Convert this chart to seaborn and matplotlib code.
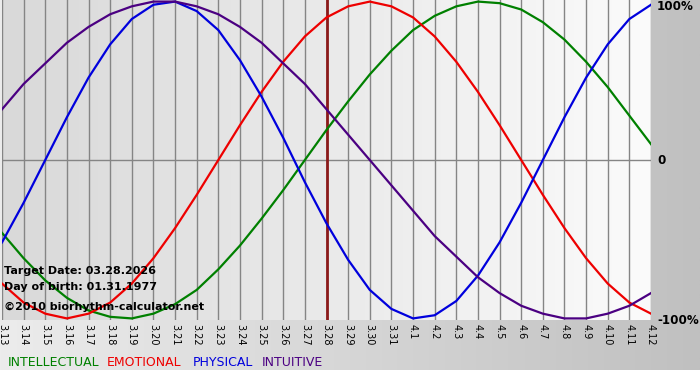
import numpy as np
import pandas as pd
import matplotlib
matplotlib.use('Agg')
import matplotlib.pyplot as plt
import seaborn as sns
from matplotlib.colors import LinearSegmentedColormap

# Data: one value per day (-1..1)
days = ['3.13', '3.14', '3.15', '3.16', '3.17', '3.18', '3.19', '3.20', '3.21', '3.22',
        '3.23', '3.24', '3.25', '3.26', '3.27', '3.28', '3.29', '3.30', '3.31', '4.1',
        '4.2', '4.3', '4.4', '4.5', '4.6', '4.7', '4.8', '4.9', '4.10', '4.11', '4.12']
physical = [-0.52, -0.27, 0.00, 0.27, 0.52, 0.73, 0.89, 0.98, 1.00, 0.94,
            0.82, 0.63, 0.40, 0.14, -0.14, -0.40, -0.63, -0.82, -0.94, -1.00,
            -0.98, -0.89, -0.73, -0.52, -0.27, 0.00, 0.27, 0.52, 0.73, 0.89, 0.98]
emotional = [-0.78, -0.90, -0.97, -1.00, -0.97, -0.90, -0.78, -0.62, -0.43, -0.22,
             0.00, 0.22, 0.43, 0.62, 0.78, 0.90, 0.97, 1.00, 0.97, 0.90,
             0.78, 0.62, 0.43, 0.22, 0.00, -0.22, -0.43, -0.62, -0.78, -0.90, -0.97]
intellectual = [-0.46, -0.62, -0.76, -0.87, -0.95, -0.99, -1.00, -0.97, -0.91, -0.82,
                -0.69, -0.54, -0.37, -0.19, 0.00, 0.19, 0.37, 0.54, 0.69, 0.82,
                0.91, 0.97, 1.00, 0.99, 0.95, 0.87, 0.76, 0.62, 0.46, 0.28, 0.10]
intuitive = [0.32, 0.48, 0.61, 0.74, 0.84, 0.92, 0.97, 1.00, 1.00, 0.97,
             0.92, 0.84, 0.74, 0.61, 0.48, 0.32, 0.16, 0.00, -0.16, -0.32,
             -0.48, -0.61, -0.74, -0.84, -0.92, -0.97, -1.00, -1.00, -0.97, -0.92, -0.84]
target_day = '3.28'

colors = {'INTELLECTUAL': '#008000', 'EMOTIONAL': '#ee0000',
          'PHYSICAL': '#0000dd', 'INTUITIVE': '#4b0082'}

rows = []
for name, vals in [('INTELLECTUAL', intellectual), ('EMOTIONAL', emotional),
                   ('PHYSICAL', physical), ('INTUITIVE', intuitive)]:
    for i, v in enumerate(vals):
        rows.append({'day': i, 'value': v, 'rhythm': name})
df = pd.DataFrame(rows)

fig = plt.figure(figsize=(7, 3.8), dpi=100)
fig.patch.set_facecolor('white')

# outer gray gradient panel
bg = fig.add_axes([0, 10 / 380, 1, 370 / 380], zorder=0)
bg_cmap = LinearSegmentedColormap.from_list('bg', ['#ececec', '#c0c0c0'])
bg.imshow(np.linspace(0, 1, 256).reshape(1, -1), aspect='auto', cmap=bg_cmap,
          extent=[0, 1, 0, 1])
bg.axis('off')

ax = fig.add_axes([2 / 700, 60 / 380, 649 / 700, 320 / 380], zorder=1)
plot_cmap = LinearSegmentedColormap.from_list('plot', ['#d9d9d9', '#fbfbfb'])
ax.imshow(np.linspace(0, 1, 256).reshape(1, -1), aspect='auto', cmap=plot_cmap,
          extent=[0, len(days) - 1, -1.01, 1.01], zorder=0)

for i in range(len(days)):
    ax.axvline(i, color='#858585', lw=1.0, zorder=1)
ax.axhline(0, color='#858585', lw=1.0, zorder=1)
ax.axvline(days.index(target_day), color='#8b1a1a', lw=2.0, zorder=2)

sns.lineplot(data=df, x='day', y='value', hue='rhythm', palette=colors,
             linewidth=1.6, legend=False, ax=ax, zorder=3)

ax.set_xlim(0, len(days) - 1)
ax.set_ylim(-1.01, 1.01)
ax.set_xticks(range(len(days)))
ax.set_xticklabels(days, rotation=-90, fontsize=7)
ax.tick_params(axis='x', length=0, pad=3)
ax.set_yticks([])
ax.set_xlabel('')
ax.set_ylabel('')
for s in ax.spines.values():
    s.set_visible(False)

# info text
info_kw = dict(fontsize=8, fontweight='bold', color='black', transform=ax.transAxes)
ax.text(0.003, 0.153, 'Target Date: 03.28.2026', va='center', **info_kw)
ax.text(0.003, 0.103, 'Day of birth: 01.31.1977', va='center', **info_kw)
ax.text(0.003, 0.041, '\u00a92010 biorhythm-calculator.net', va='center', **info_kw)

# right-hand scale labels
fig.text(657 / 700, 1 - 7 / 380, '100%', fontsize=8.6, fontweight='bold', va='center')
fig.text(657 / 700, 1 - 160 / 380, '0', fontsize=8.6, fontweight='bold', va='center')
fig.text(657 / 700, 1 - 321 / 380, '-100%', fontsize=8.6, fontweight='bold', va='center')

# legend as coloured words
for name, x in [('INTELLECTUAL', 8), ('EMOTIONAL', 107), ('PHYSICAL', 193), ('INTUITIVE', 262)]:
    fig.text(x / 700, 1 - 362 / 380, name, color=colors[name], fontsize=9,
             va='center', ha='left')

fig.savefig('out.png', dpi=100)
